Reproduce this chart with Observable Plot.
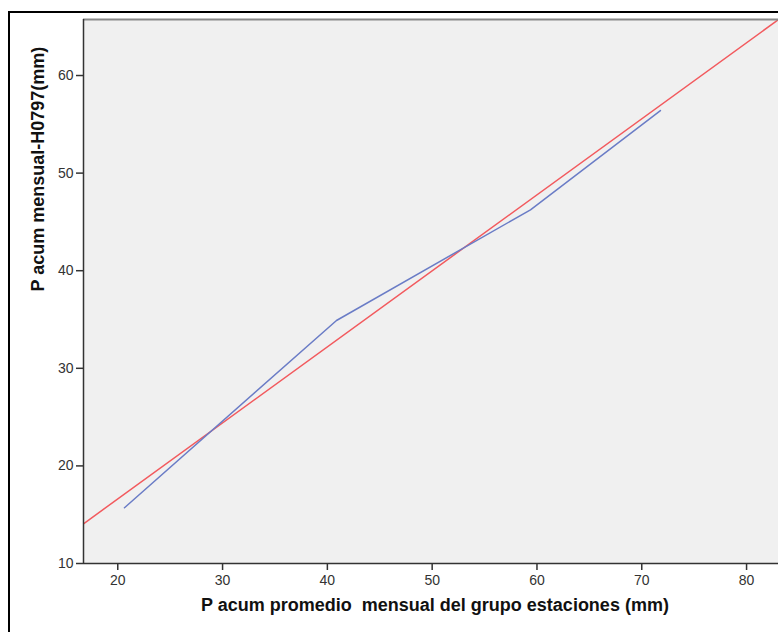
<!DOCTYPE html>
<html>
<head>
<meta charset="utf-8">
<script src="https://cdn.jsdelivr.net/npm/d3@7"></script>
<script src="https://cdn.jsdelivr.net/npm/@observablehq/plot@0.6"></script>
<style>
  html, body { margin: 0; padding: 0; background: #fff; overflow: hidden; width: 778px; height: 632px; }
  #outer { position: absolute; left: 8px; top: 11px; width: 900px; height: 700px; border-left: 2px solid #000; border-top: 2px solid #000; }
  #chart { position: absolute; left: 0; top: 0; width: 790px; }
  #chart svg { max-width: none !important; }
  #chart svg text { white-space: pre; }
  #chart svg g[aria-label$="tick label"] { font-size: 14px !important; }
</style>
</head>
<body>
<div id="outer"></div>
<div id="chart"></div>
<script>
// Observed series (blue polyline)
const obsX = [20.64, 40.87, 59.38, 71.78];
const obsY = [15.71, 34.90, 46.24, 56.41];
// Reference line endpoints (red)
const refX = [16.73, 83.62];
const refY = [14.07, 66.18];
// Axes
const xDomain = [16.73, 83.62];
const yDomain = [10, 65.74];
const xTicks = [20, 30, 40, 50, 60, 70, 80];
const yTicks = [10, 20, 30, 40, 50, 60];
const xLabel = "P acum promedio  mensual del grupo estaciones (mm)";
const yLabel = "P acum mensual-H0797(mm)";

const obs = obsX.map((x, i) => ({x, y: obsY[i]}));
const ref = refX.map((x, i) => ({x, y: refY[i]}));

const chart = Plot.plot({
  width: 790,
  height: 632,
  marginLeft: 83,
  marginRight: 6,
  marginTop: 19,
  marginBottom: 69,
  style: {fontFamily: "Liberation Sans, Arial, sans-serif", fontSize: "14px", background: "transparent", color: "#333", maxWidth: "none"},
  x: {domain: xDomain, axis: null},
  y: {domain: yDomain, axis: null},
  marks: [
    Plot.frame({fill: "#f0f0f0", stroke: "none"}),
    Plot.line(ref, {x: "x", y: "y", stroke: "#f25a5e", strokeWidth: 1.5, clip: true}),
    Plot.line(obs, {x: "x", y: "y", stroke: "#6a7cc6", strokeWidth: 1.5}),
    Plot.ruleY([yDomain[1]], {stroke: "#888", strokeWidth: 2}),
    Plot.ruleX([xDomain[0]], {stroke: "#333", strokeWidth: 1.5}),
    Plot.ruleY([yDomain[0]], {stroke: "#333", strokeWidth: 1.5}),
    Plot.axisY({ticks: yTicks, tickSize: 7, tickPadding: 3, label: null, stroke: "#333", strokeWidth: 1.5, fill: "#333", fontSize: 14}),
    Plot.axisX({ticks: xTicks, tickSize: 7, tickPadding: 5, label: null, stroke: "#333", strokeWidth: 1.5, fill: "#333", fontSize: 14}),
    Plot.text([xLabel], {frameAnchor: "bottom", dy: 47, dx: 1, text: d => d, fontSize: 18, fontWeight: "bold", fill: "#111"}),
    Plot.text([yLabel], {frameAnchor: "left", dx: -45, rotate: -90, text: d => d, fontSize: 18, fontWeight: "bold", fill: "#111"})
  ]
});
document.getElementById("chart").appendChild(chart);
</script>
</body>
</html>
